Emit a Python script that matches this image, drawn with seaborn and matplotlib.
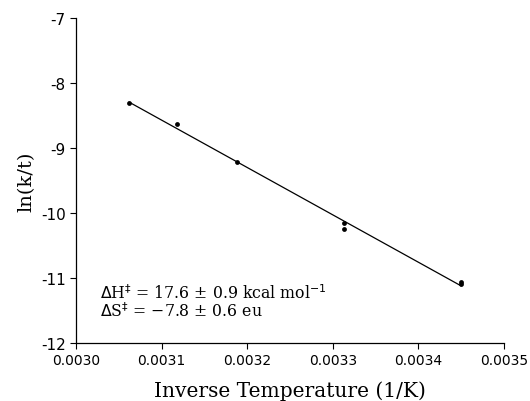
import numpy as np
import pandas as pd
import matplotlib
matplotlib.use("Agg")
import matplotlib.pyplot as plt
import seaborn as sns

# data
inv_temp = [0.003062, 0.003118, 0.003188, 0.003313, 0.003313, 0.003450, 0.003450]
ln_k = [-8.30, -8.63, -9.22, -10.15, -10.24, -11.06, -11.10]

x_ticks = [0.0030, 0.0031, 0.0032, 0.0033, 0.0034, 0.0035]
x_ticklabels = ["0.0030", "0.0031", "0.0032", "0.0033", "0.0034", "0.0035"]
y_ticks = [-12, -11, -10, -9, -8, -7]
y_ticklabels = ["-12", "-11", "-10", "-9", "-8", "-7"]

df = pd.DataFrame({"x": inv_temp, "y": ln_k})

sns.set_theme(style="ticks")
plt.rcParams["font.family"] = ["DejaVu Sans"]
plt.rcParams["text.color"] = "black"
plt.rcParams["axes.labelcolor"] = "black"

fig = plt.figure(figsize=(5.3, 4.02), dpi=100)
ax = fig.add_axes([0.1434, 0.1443, 0.8076, 0.8084])

sns.regplot(data=df, x="x", y="y", ax=ax, ci=None, truncate=True,
            scatter_kws={"s": 12, "color": "black", "linewidths": 0, "alpha": 1},
            line_kws={"color": "black", "linewidth": 0.9})

ax.set_xlim(0.0030, 0.0035)
ax.set_ylim(-12, -7)
ax.set_xticks(x_ticks)
ax.set_xticklabels(x_ticklabels, fontsize=10)
ax.set_yticks(y_ticks)
ax.set_yticklabels(y_ticklabels, fontsize=11)
ax.tick_params(direction="out", length=4, width=0.8, colors="black")
for s in ["top", "right"]:
    ax.spines[s].set_visible(False)
for s in ["left", "bottom"]:
    ax.spines[s].set_color("black")
    ax.spines[s].set_linewidth(0.9)

ax.set_xlabel("Inverse Temperature (1/K)", fontsize=14.5, family="DejaVu Serif", labelpad=9)
ax.set_ylabel("ln(k/t)", fontsize=14, family="DejaVu Serif", labelpad=4)

ax.text(0.056, 0.138, "$\\Delta$H$^{\\ddag}$ = 17.6 \u00b1 0.9 kcal mol$^{-1}$",
        transform=ax.transAxes, fontsize=11.3, family="DejaVu Serif", color="black")
ax.text(0.056, 0.083, "$\\Delta$S$^{\\ddag}$ = \u22127.8 \u00b1 0.6 eu",
        transform=ax.transAxes, fontsize=11.3, family="DejaVu Serif", color="black")

fig.savefig("out.png", dpi=100, facecolor="white")
